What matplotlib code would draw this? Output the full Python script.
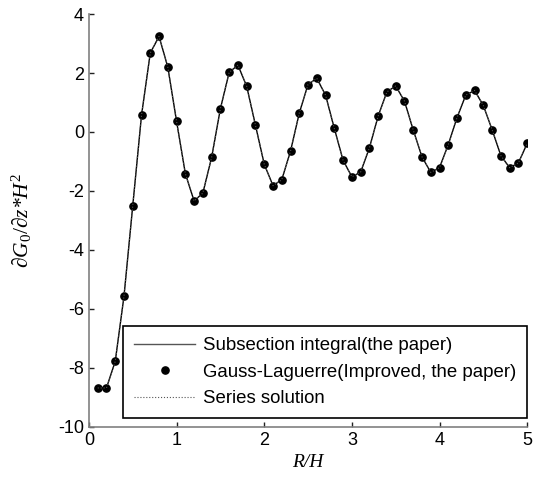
import matplotlib
matplotlib.use("Agg")
import matplotlib.pyplot as plt
import numpy as np

r_over_h = [0.1, 0.2, 0.3, 0.4, 0.5, 0.6, 0.7, 0.8, 0.9, 1.0,
            1.1, 1.2, 1.3, 1.4, 1.5, 1.6, 1.7, 1.8, 1.9, 2.0,
            2.1, 2.2, 2.3, 2.4, 2.5, 2.6, 2.7, 2.8, 2.9, 3.0,
            3.1, 3.2, 3.3, 3.4, 3.5, 3.6, 3.7, 3.8, 3.9, 4.0,
            4.1, 4.2, 4.3, 4.4, 4.5, 4.6, 4.7, 4.8, 4.9, 5.0]
g_values = [-8.68, -8.68, -7.78, -5.57, -2.50, 0.57, 2.68, 3.24, 2.20, 0.36,
            -1.41, -2.34, -2.07, -0.86, 0.79, 2.02, 2.27, 1.55, 0.23, -1.09,
            -1.82, -1.62, -0.65, 0.64, 1.61, 1.82, 1.25, 0.12, -0.96, -1.52,
            -1.36, -0.54, 0.54, 1.36, 1.56, 1.05, 0.07, -0.84, -1.37, -1.21,
            -0.43, 0.49, 1.25, 1.41, 0.90, 0.08, -0.80, -1.21, -1.05, -0.39]
series_values = g_values

x_ticks = [0, 1, 2, 3, 4, 5]
y_ticks = [-10, -8, -6, -4, -2, 0, 2, 4]

plt.rcParams['font.family'] = ['Liberation Sans', 'DejaVu Sans']
plt.rcParams['axes.unicode_minus'] = False
plt.rcParams['mathtext.fontset'] = 'custom'
plt.rcParams['mathtext.it'] = 'Liberation Serif:italic'
plt.rcParams['mathtext.rm'] = 'Liberation Serif'

fig = plt.figure(figsize=(5.39, 4.84), dpi=100)
ax = fig.add_axes([0.165, 0.118, 0.813, 0.853])

ax.plot(r_over_h, g_values, color='black', linewidth=1.0,
        label='Subsection integral(the paper)')
ax.plot(r_over_h, g_values, linestyle='none', marker='o', color='black',
        markersize=5.2, label='Gauss-Laguerre(Improved, the paper)')
ax.plot(r_over_h, series_values, linestyle=':', color='#555555', linewidth=0.8,
        label='Series solution')

ax.set_xlim(0, 5)
ax.set_ylim(-10, 4)
ax.set_xticks(x_ticks)
ax.set_yticks(y_ticks)
ax.tick_params(direction='in', length=3.5, width=1, labelsize=13, color='#222222')

for side in ['top', 'right']:
    ax.spines[side].set_visible(False)
for side in ['left', 'bottom']:
    ax.spines[side].set_color('#808080')
    ax.spines[side].set_linewidth(1.2)

ax.set_xlabel('R/H', fontsize=14, fontstyle='italic', family='Liberation Serif')
ax.set_ylabel(r'$\partial G_0/\partial z$*$H^2$', fontsize=15.5, family='Liberation Serif',
              fontstyle='italic', labelpad=17)

leg = ax.legend(loc='lower right', bbox_to_anchor=(1.0, 0.021), borderaxespad=0,
                fontsize=13.4, frameon=True, fancybox=False, framealpha=1,
                edgecolor='black', handlelength=3.3, handletextpad=0.4,
                labelspacing=0.5, borderpad=0.6)
leg.get_frame().set_linewidth(1.2)
leg.get_lines()[0].set_color('#555555')

fig.savefig('out.png', dpi=100)
